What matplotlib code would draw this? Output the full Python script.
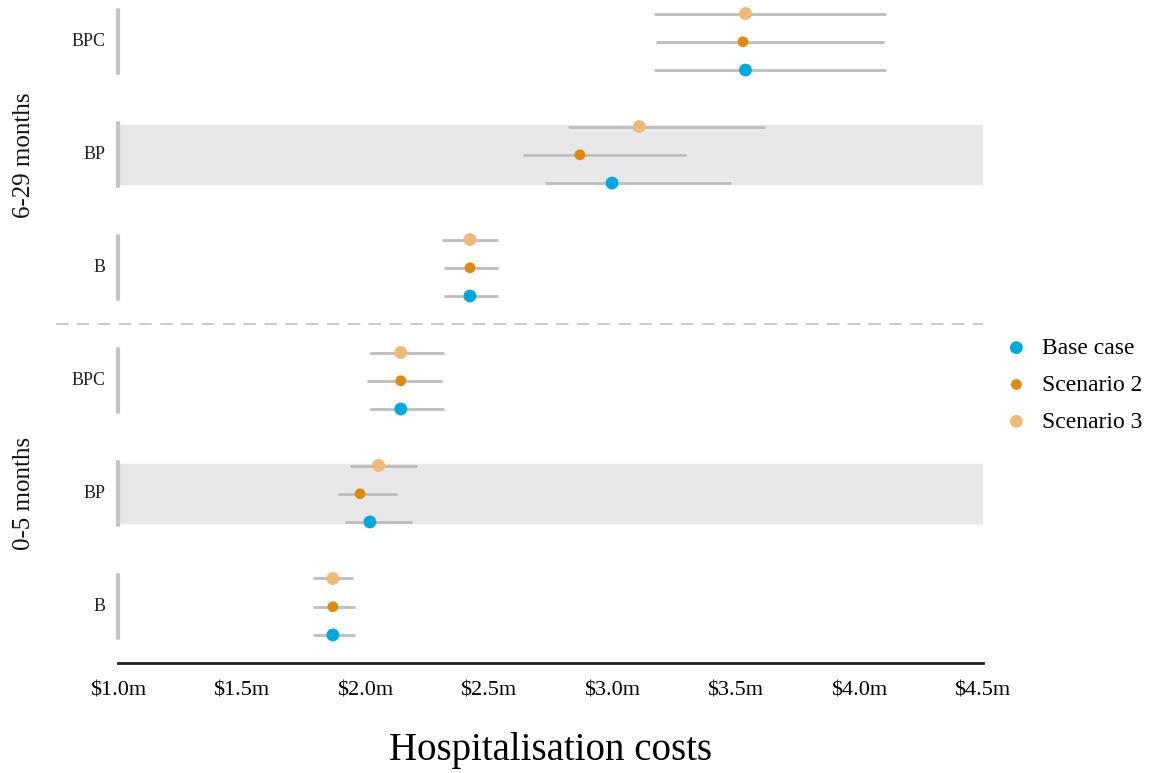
import matplotlib.pyplot as plt
import numpy as np

# hospitalisation costs ($m), groups listed bottom to top
groups = ['B', 'BP', 'BPC', 'B', 'BP', 'BPC']
ages = ['0-5 months', '6-29 months']
series = ['Base case', 'Scenario 2', 'Scenario 3']
colors = ['#00a8e0', '#e0890c', '#f0b977']

base_mid = [1.87, 2.02, 2.145, 2.425, 3.00, 3.54]
base_lo = [1.79, 1.92, 2.02, 2.32, 2.73, 3.17]
base_hi = [1.96, 2.19, 2.32, 2.54, 3.48, 4.11]

s2_mid = [1.87, 1.98, 2.145, 2.425, 2.87, 3.53]
s2_lo = [1.79, 1.89, 2.01, 2.32, 2.64, 3.18]
s2_hi = [1.96, 2.13, 2.31, 2.54, 3.30, 4.10]

s3_mid = [1.87, 2.055, 2.145, 2.425, 3.11, 3.54]
s3_lo = [1.79, 1.94, 2.02, 2.31, 2.82, 3.17]
s3_hi = [1.95, 2.21, 2.32, 2.54, 3.62, 4.11]

mids = [base_mid, s2_mid, s3_mid]
los = [base_lo, s2_lo, s3_lo]
his = [base_hi, s2_hi, s3_hi]
offsets = [-0.25, 0.0, 0.25]
sizes = [85, 60, 85]

serif = 'Liberation Serif'
fig = plt.figure(figsize=(11.56, 7.73), dpi=100)
ax = fig.add_axes([0.102, 0.142, 0.748, 0.858])

y = np.arange(len(groups))
for g in range(len(groups)):
    if groups[g] == 'BP':
        ax.axhspan(y[g] - 0.26, y[g] + 0.26, color='#e8e8e8', zorder=0)
    ax.plot([1.0, 1.0], [y[g] - 0.28, y[g] + 0.28], color='#c4c4c4', lw=3,
            solid_capstyle='round', zorder=1, clip_on=False)
    ax.text(0.95, y[g], groups[g], ha='right', va='center', fontsize=13,
            family=serif, color='#222222')

for k in range(3):
    yy = y + offsets[k]
    ax.hlines(yy, los[k], his[k], color='#bdbdbd', lw=2, zorder=2)
    ax.scatter(mids[k], yy, s=sizes[k], color=colors[k], zorder=3,
               edgecolors='none', label=series[k])

# separator between the two age groups
ax.plot([0.75, 4.5], [2.5, 2.5], color='#cccccc', lw=1.5, ls=(0, (6, 4)),
        clip_on=False, zorder=1)

for i, lab in enumerate(ages):
    ax.text(0.62, 3 * i + 1, lab, rotation=90, ha='center', va='center',
            fontsize=18, family=serif, color='#111111')

ax.set_xlim(1.0, 4.5)
ax.set_ylim(-0.5, 5.37)
ticks = np.arange(1.0, 4.51, 0.5)
ax.set_xticks(ticks)
ax.set_xticklabels(['$%.1fm' % t for t in ticks], family=serif, fontsize=16)
ax.tick_params(axis='x', length=0, pad=13)
ax.set_yticks([])
for side in ['top', 'right', 'left']:
    ax.spines[side].set_visible(False)
ax.spines['bottom'].set_linewidth(2)
ax.spines['bottom'].set_color('#222222')
ax.set_xlabel('Hospitalisation costs', family=serif, fontsize=28, labelpad=23)

fig.legend(loc='center left', bbox_to_anchor=(0.869, 0.502), frameon=False,
           prop={'family': serif, 'size': 17}, handlelength=1.0,
           handletextpad=0.6, labelspacing=0.65, borderpad=0,
           borderaxespad=0)

fig.savefig('out.png', dpi=100)
